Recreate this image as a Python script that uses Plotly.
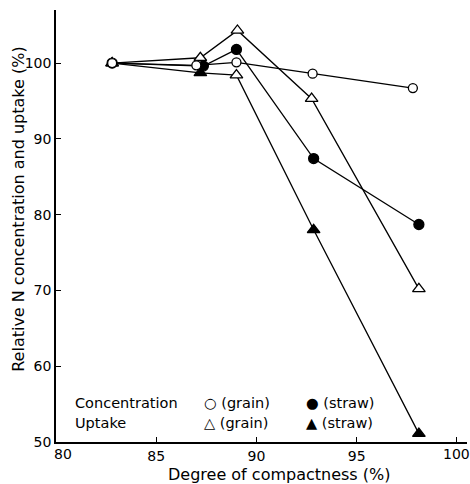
import plotly.graph_objects as go

# Data
compactness_conc_grain = [82.8, 87.0, 89.0, 92.8, 97.8]
conc_grain = [100.0, 99.7, 100.1, 98.6, 96.7]

compactness_conc_straw = [82.8, 87.35, 89.0, 92.85, 98.1]
conc_straw = [100.0, 99.6, 101.8, 87.4, 78.7]

compactness_upt_grain = [82.8, 87.2, 89.05, 92.75, 98.1]
upt_grain = [100.0, 100.7, 104.3, 95.3, 70.2]

compactness_upt_straw = [82.8, 87.2, 89.0, 92.85, 98.1]
upt_straw = [100.0, 98.7, 98.4, 78.0, 51.1]
upt_straw_fill = ["black", "black", "white", "black", "black"]

x_ticks = [80, 85, 90, 95, 100]
y_ticks = [50, 60, 70, 80, 90, 100]

FONT = "DejaVu Sans"

fig = go.Figure()

def add_series(x, y, symbol, fill, size):
    fig.add_trace(go.Scatter(
        x=x, y=y, mode="lines+markers",
        line=dict(color="black", width=1.3),
        marker=dict(symbol=symbol, size=size, color=fill,
                    line=dict(color="black", width=1.3)),
        showlegend=False, cliponaxis=False,
    ))

add_series(compactness_upt_straw, upt_straw, "triangle-up", upt_straw_fill, 11)
add_series(compactness_upt_grain, upt_grain, "triangle-up", "white", 11)
add_series(compactness_conc_straw, conc_straw, "circle", "black", 10)
add_series(compactness_conc_grain, conc_grain, "circle", "white", 9)

# Legend as text
legend_rows = [
    (55.1, "Concentration", "○ (grain)", "● (straw)"),
    (52.5, "Uptake", "△ (grain)", "▲ (straw)"),
]
for yv, name, g, s in legend_rows:
    for xv, txt in [(80.85, name), (87.28, g), (92.37, s)]:
        fig.add_annotation(x=xv, y=yv, text=txt, showarrow=False,
                           xanchor="left", yanchor="middle",
                           font=dict(family=FONT, size=14.5, color="black"))

# End tick labels as annotations ("80" shifted right, "100" near the edge)
fig.add_annotation(x=80, y=50, text="80", showarrow=False, xanchor="center",
                   yanchor="top", xshift=7, yshift=-2,
                   font=dict(family=FONT, size=14, color="black"))
fig.add_annotation(x=100, y=50, text="100", showarrow=False, xanchor="center",
                   yanchor="top", xshift=0, yshift=-2,
                   font=dict(family=FONT, size=14, color="black"))

# Axis titles
fig.add_annotation(xref="paper", yref="paper", x=0.5426, y=-0.0748,
                   text="Degree of compactness (%)", showarrow=False,
                   xanchor="center", yanchor="middle",
                   font=dict(family=FONT, size=16, color="black"))
fig.add_annotation(xref="paper", yref="paper", x=-0.09, y=0.5375,
                   text="Relative N concentration and uptake (%)", showarrow=False,
                   textangle=-90, xanchor="center", yanchor="middle",
                   font=dict(family=FONT, size=16, color="black"))

fig.update_xaxes(
    range=[80, 100.5], tickvals=x_ticks,
    ticktext=["" if v in (80, 100) else str(v) for v in x_ticks],
    ticks="inside", ticklen=5, tickwidth=1.2, tickcolor="black",
    showline=True, linecolor="black", linewidth=1.5, showgrid=False, zeroline=False,
    tickfont=dict(family=FONT, size=14, color="black"),
)
fig.update_yaxes(
    range=[50, 107], tickvals=y_ticks,
    ticks="inside", ticklen=5, tickwidth=1.2, tickcolor="black",
    showline=True, linecolor="black", linewidth=1.5, showgrid=False, zeroline=False,
    tickfont=dict(family=FONT, size=14, color="black"),
)

fig.update_layout(
    width=470, height=484,
    margin=dict(l=56, r=3, t=10, b=42),
    paper_bgcolor="white", plot_bgcolor="white",
    font=dict(family=FONT, color="black"),
)

fig.write_html("out.html")
